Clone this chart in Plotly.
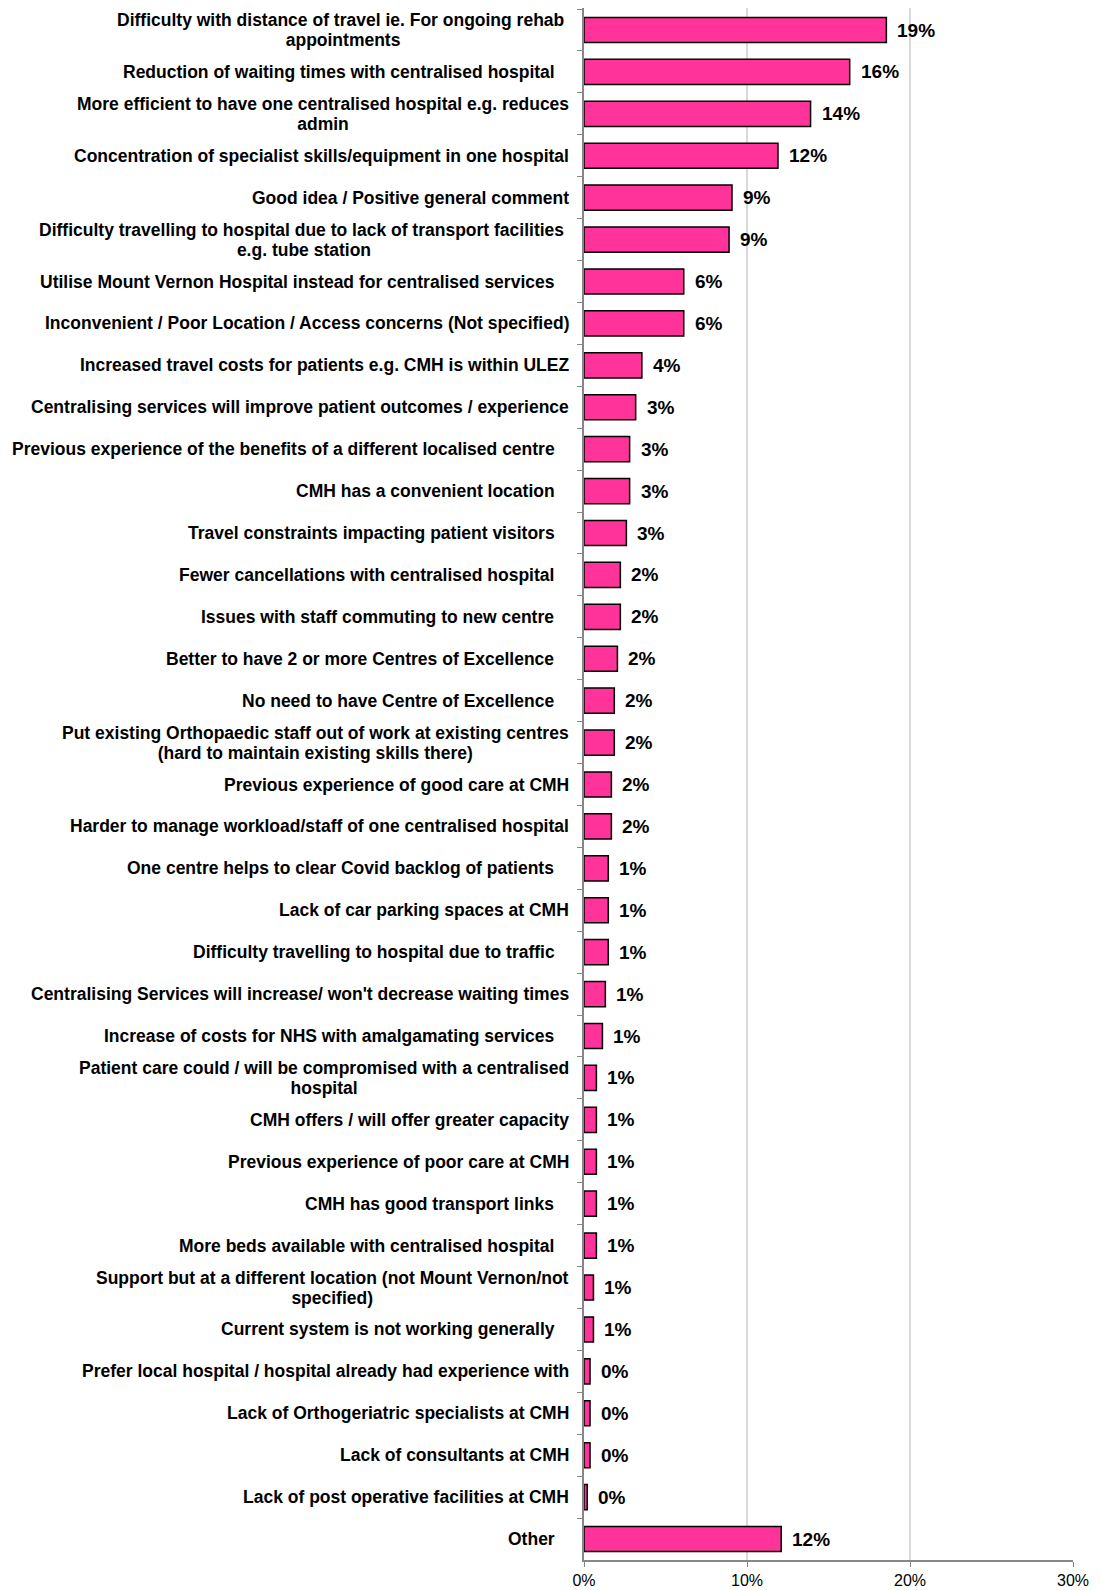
import plotly.graph_objects as go

# Reasons given, top to bottom (trailing spaces are part of the original labels)
reasons = [
    "Difficulty with distance of travel ie. For ongoing rehab <br>appointments",
    "Reduction of waiting times with centralised hospital   ",
    "More efficient to have one centralised hospital e.g. reduces<br>admin",
    "Concentration of specialist skills/equipment in one hospital",
    "Good idea / Positive general comment",
    "Difficulty travelling to hospital due to lack of transport facilities <br>e.g. tube station",
    "Utilise Mount Vernon Hospital instead for centralised services   ",
    "Inconvenient / Poor Location / Access concerns (Not specified)",
    "Increased travel costs for patients e.g. CMH is within ULEZ",
    "Centralising services will improve patient outcomes / experience",
    "Previous experience of the benefits of a different localised centre   ",
    "CMH has a convenient location   ",
    "Travel constraints impacting patient visitors   ",
    "Fewer cancellations with centralised hospital   ",
    "Issues with staff commuting to new centre   ",
    "Better to have 2 or more Centres of Excellence   ",
    "No need to have Centre of Excellence   ",
    "Put existing Orthopaedic staff out of work at existing centres<br>(hard to maintain existing skills there)",
    "Previous experience of good care at CMH",
    "Harder to manage workload/staff of one centralised hospital",
    "One centre helps to clear Covid backlog of patients   ",
    "Lack of car parking spaces at CMH",
    "Difficulty travelling to hospital due to traffic   ",
    "Centralising Services will increase/ won't decrease waiting times",
    "Increase of costs for NHS with amalgamating services   ",
    "Patient care could / will be compromised with a centralised<br>hospital",
    "CMH offers / will offer greater capacity",
    "Previous experience of poor care at CMH",
    "CMH has good transport links   ",
    "More beds available with centralised hospital   ",
    "Support but at a different location (not Mount Vernon/not<br>specified)",
    "Current system is not working generally   ",
    "Prefer local hospital / hospital already had experience with",
    "Lack of Orthogeriatric specialists at CMH",
    "Lack of consultants at CMH",
    "Lack of post operative facilities at CMH",
    "Other   ",
]

# Share of respondents mentioning each reason (%)
share_pct = [
    18.55, 16.3, 13.9, 11.9, 9.08, 8.9, 6.12, 6.12, 3.55, 3.17,
    2.8, 2.8, 2.6, 2.23, 2.23, 2.05, 1.86, 1.86, 1.68, 1.68,
    1.49, 1.49, 1.49, 1.31, 1.13, 0.76, 0.76, 0.76, 0.76, 0.76,
    0.58, 0.58, 0.37, 0.37, 0.37, 0.2, 12.1,
]

x_ticks = [0, 10, 20, 30]
x_tick_text = ["0%", "10%", "20%", "30%"]

FONT = "Arial, 'Liberation Sans', sans-serif"
PINK = "#FF3399"

fig = go.Figure(
    go.Bar(
        x=share_pct,
        y=reasons,
        orientation="h",
        marker=dict(color=PINK, line=dict(color="#000000", width=1.5)),
        hoverinfo="skip",
    )
)

annotations = []
# Category labels: right-aligned block, multi-line labels centred within it
for r in reasons:
    txt = r.replace(" <br>", "\u00a0<br>").rstrip(" ")
    n_trail = len(r) - len(r.rstrip(" "))
    txt = txt + "\u00a0" * n_trail
    annotations.append(dict(
        xref="paper", yref="y", x=0, y=r,
        xanchor="right", yanchor="middle", xshift=-13,
        align="center", showarrow=False,
        text='<span style="font-size:17.5px">' + txt + "</span>",
        font=dict(family=FONT, size=15.6, color="#000000", weight="bold"),
    ))

# Value labels just past the end of each bar
for r, v in zip(reasons, share_pct):
    annotations.append(dict(
        xref="x", yref="y", x=v, y=r,
        xanchor="left", yanchor="middle", xshift=9,
        showarrow=False,
        text=f"{v:.0f}%",
        font=dict(family=FONT, size=19, color="#000000", weight="bold"),
    ))

fig.update_layout(
    width=1101,
    height=1590,
    margin=dict(l=584, r=28, t=8, b=30, autoexpand=False),
    paper_bgcolor="#ffffff",
    plot_bgcolor="#ffffff",
    bargap=0.4,
    showlegend=False,
    annotations=annotations,
    xaxis=dict(
        range=[0, 30],
        tickvals=x_ticks,
        ticktext=x_tick_text,
        showgrid=True,
        gridcolor="#d9d9d9",
        gridwidth=1.5,
        zeroline=False,
        showline=True,
        linecolor="#868686",
        linewidth=1.5,
        ticks="outside",
        ticklen=5,
        tickcolor="#868686",
        tickfont=dict(family=FONT, size=16, color="#000000"),
        ticklabelstandoff=0,
        automargin=False,
        fixedrange=True,
    ),
    yaxis=dict(
        categoryorder="array",
        categoryarray=reasons,
        autorange="reversed",
        showticklabels=False,
        showgrid=False,
        zeroline=False,
        showline=True,
        linecolor="#868686",
        linewidth=1.5,
        ticks="outside",
        tickson="boundaries",
        ticklen=5,
        tickcolor="#868686",
        automargin=False,
        fixedrange=True,
    ),
)

fig.write_html("out.html")
